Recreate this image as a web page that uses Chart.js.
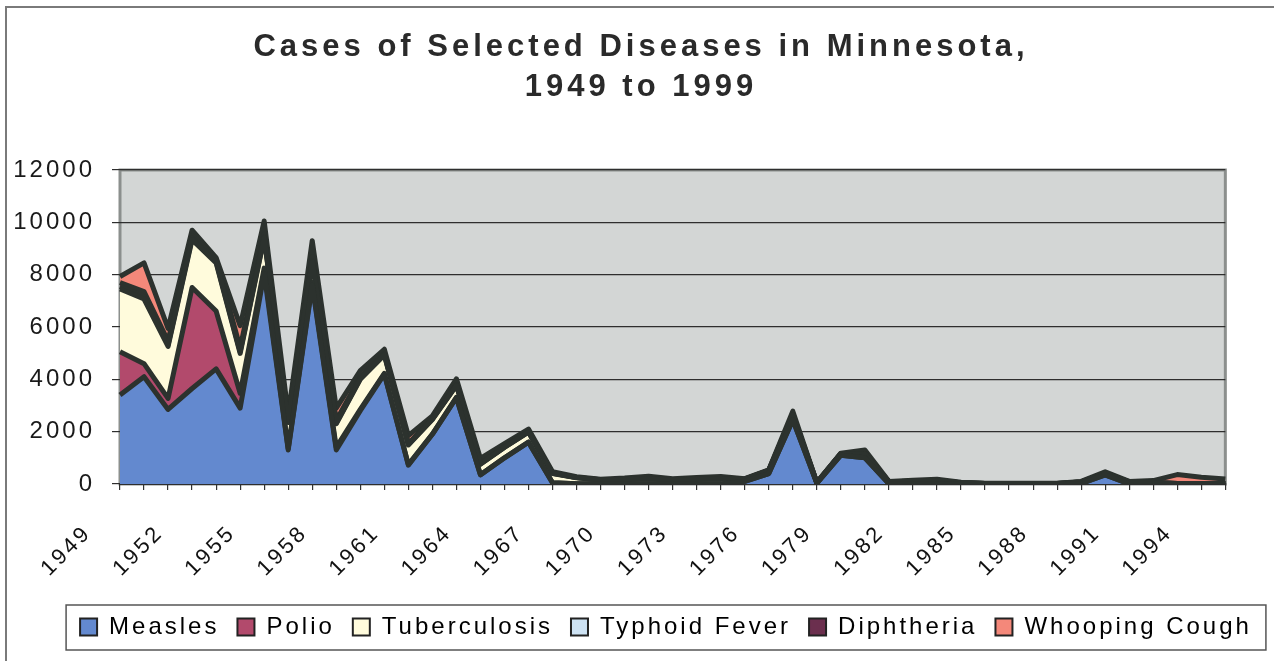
<!DOCTYPE html>
<html>
<head>
<meta charset="utf-8">
<script src="https://cdn.jsdelivr.net/npm/chart.js"></script>
<style>
html, body { margin: 0; padding: 0; background: #fff; }
#wrap { width: 1274px; height: 661px; }
</style>
</head>
<body>
<div id="wrap"><canvas id="myChart" width="1274" height="661"></canvas></div>
<script>
// years 1949..1995, one point each
var years = ['1949','1950','1951','1952','1953','1954','1955','1956','1957','1958',
             '1959','1960','1961','1962','1963','1964','1965','1966','1967','1968',
             '1969','1970','1971','1972','1973','1974','1975','1976','1977','1978',
             '1979','1980','1981','1982','1983','1984','1985','1986','1987','1988',
             '1989','1990','1991','1992','1993','1994','1995'];
var xTickLabels = ['1949','1952','1955','1958','1961','1964','1967','1970','1973',
                   '1976','1979','1982','1985','1988','1991','1994'];
var yTicks = [0, 2000, 4000, 6000, 8000, 10000, 12000];

var measles = [3400,4100,2850,3650,4400,2900,8050,1300,7600,1300,
               2800,4200,720,1900,3300,350,1000,1600,50,10,
               5,5,5,5,5,5,100,400,2450,30,
               1100,1000,10,5,5,2,2,2,2,2,
               20,350,5,2,2,2,2];
var polio = [1650,500,420,3860,2210,570,200,50,100,100,
             50,30,20,10,10,5,0,0,0,0,
             0,0,0,0,0,0,0,0,0,0,
             0,0,0,0,0,0,0,0,0,0,
             0,0,0,0,0,0,0];
var tuberculosis = [2400,2470,1985,1830,1840,1520,1150,1000,800,900,
                    1150,700,750,550,450,400,400,380,350,230,
                    150,170,200,150,180,200,80,120,200,20,
                    60,150,80,100,120,50,15,15,15,15,
                    60,60,80,60,20,20,20];
var typhoid = [100,80,60,60,50,60,40,40,40,30,
               30,20,20,20,20,15,10,10,10,5,
               5,3,3,3,3,3,3,3,3,0,
               0,0,0,0,0,0,0,0,0,0,
               0,0,0,0,0,0,0];
var diphtheria = [150,200,150,100,100,150,100,100,150,100,
                  60,40,30,20,20,15,10,10,5,0,
                  0,0,0,0,0,0,0,0,0,0,
                  0,0,0,0,0,0,0,0,0,0,
                  0,0,0,0,0,0,0];
var whoopingCough = [230,1100,485,200,50,850,510,160,610,470,
                     240,160,310,100,220,190,120,100,55,35,
                     20,50,90,40,60,80,20,20,130,10,
                     20,150,10,35,55,13,8,8,8,8,
                     20,60,15,68,338,238,168];

var seriesNames = ['Measles', 'Polio', 'Tuberculosis', 'Typhoid Fever', 'Diphtheria', 'Whooping Cough'];
var seriesColors = ['#6389cf', '#b24a6c', '#fffbdc', '#cde2f3', '#6b2f4e', '#f4887a'];
var seriesData = [measles, polio, tuberculosis, typhoid, diphtheria, whoopingCough];

var FONT = '"Liberation Sans", Arial, sans-serif';
var PAD_BOTTOM = 12;
var LEGEND_SHIFT = 29;

var datasets = seriesData.map(function (d, i) {
    return {
        label: seriesNames[i],
        data: d,
        backgroundColor: seriesColors[i],
        borderColor: '#2c322e',
        borderWidth: 5,
        borderJoinStyle: 'round',
        pointRadius: 0,
        tension: 0,
        fill: i === 0 ? 'origin' : '-1'
    };
});

function shifted(box, spacing, dx) {
    if (box._shifted) return;
    var d = box.draw;
    box.draw = function (area) {
        var ctx = this.ctx;
        ctx.save();
        ctx.letterSpacing = spacing;
        ctx.translate(dx, 0);
        d.call(this, area);
        ctx.restore();
    };
    box._shifted = true;
}

var frame = {
    id: 'frame',
    beforeUpdate: function (chart) {
        chart.ctx.letterSpacing = '3px';
    },
    beforeDraw: function (chart) {
        var ctx = chart.ctx, a = chart.chartArea;
        ctx.letterSpacing = '3px';
        ctx.save();
        ctx.fillStyle = '#fff';
        ctx.fillRect(0, 0, chart.width, chart.height);
        ctx.strokeStyle = '#7a7a7a';
        ctx.lineWidth = 2;
        ctx.strokeRect(6, 7, chart.width + 20, chart.height + 20);
        ctx.fillStyle = '#d3d6d5';
        ctx.fillRect(a.left, a.top, a.right - a.left, a.bottom - a.top);
        ctx.strokeStyle = '#8b8f8d';
        ctx.lineWidth = 3;
        ctx.strokeRect(a.left, a.top, a.right - a.left, a.bottom - a.top);
        ctx.restore();
        shifted(chart.titleBlock, '4px', 4);
        shifted(chart.legend, '3px', LEGEND_SHIFT);
    },
    afterDraw: function (chart) {
        var ctx = chart.ctx, lg = chart.legend;
        var hb = lg.legendHitBoxes;
        if (!hb || !hb.length) return;
        var l = hb[0].left + LEGEND_SHIFT;
        var r = hb[hb.length - 1].left + hb[hb.length - 1].width + LEGEND_SHIFT;
        var cy = hb[0].top + hb[0].height / 2;
        ctx.save();
        ctx.strokeStyle = '#555';
        ctx.lineWidth = 1.5;
        ctx.strokeRect(l - 14, cy - 22, r - l + 28, 45);
        ctx.restore();
    }
};

new Chart(document.getElementById('myChart'), {
    type: 'line',
    data: { labels: years, datasets: datasets },
    options: {
        responsive: false,
        devicePixelRatio: 1,
        animation: false,
        layout: { padding: { left: 0, right: 0, top: 0, bottom: PAD_BOTTOM } },
        plugins: {
            filler: { drawTime: 'beforeDatasetsDraw' },
            tooltip: { enabled: false },
            title: {
                display: true,
                text: ['Cases of Selected Diseases in Minnesota,', '1949 to 1999'],
                color: '#2a2a2a',
                font: { family: FONT, size: 31, weight: 'bold', lineHeight: 40 / 31 },
                padding: { top: 27, bottom: 63 }
            },
            legend: {
                position: 'bottom',
                labels: {
                    color: '#1a1a1a',
                    font: { family: FONT, size: 24 },
                    boxWidth: 17,
                    boxHeight: 17,
                    padding: 18,
                    generateLabels: function (chart) {
                        return chart.data.datasets.map(function (ds, i) {
                            return {
                                text: ds.label,
                                fillStyle: ds.backgroundColor,
                                strokeStyle: '#222',
                                lineWidth: 2,
                                datasetIndex: i
                            };
                        });
                    }
                }
            }
        },
        scales: {
            x: {
                grid: { display: true, drawOnChartArea: false, drawTicks: true, tickLength: 6, color: '#333', lineWidth: 1.2 },
                border: { display: true, color: '#2e2e2e', width: 2 },
                ticks: {
                    autoSkip: false,
                    minRotation: 45,
                    maxRotation: 45,
                    color: '#111',
                    font: { family: FONT, size: 22 },
                    padding: 30,
                    labelOffset: -32,
                    callback: function (v, i) {
                        var y = years[i];
                        return xTickLabels.indexOf(y) >= 0 ? y : '';
                    }
                },
                afterFit: function (s) {
                    s.height = 661 - PAD_BOTTOM - s.chart.legend.height - 484;
                }
            },
            y: {
                stacked: true,
                min: 0,
                max: 12000,
                grid: { color: '#2e2e2e', lineWidth: 1.2, tickLength: 8 },
                border: { display: false },
                ticks: {
                    color: '#1a1a1a',
                    font: { family: FONT, size: 24 },
                    padding: 17,
                    callback: function (v) { return String(v); }
                },
                afterBuildTicks: function (s) {
                    s.ticks = yTicks.map(function (v) { return { value: v }; });
                },
                afterFit: function (s) { s.width = 120; }
            },
            yR: {
                position: 'right',
                display: true,
                grid: { display: false },
                border: { display: false },
                ticks: { display: false },
                afterFit: function (s) { s.width = 45; }
            }
        }
    },
    plugins: [frame]
});
</script>
</body>
</html>
